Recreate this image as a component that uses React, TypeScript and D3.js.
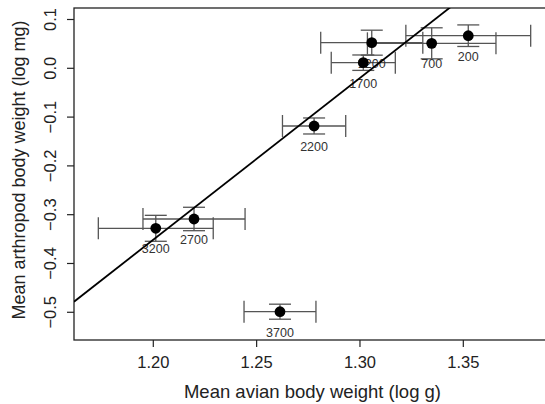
import React from "react";
import * as d3 from "d3";

const siteLabels = ["200", "700", "1200", "1700", "2200", "2700", "3200", "3700"];
const avianMean = [1.3524, 1.3347, 1.3057, 1.3016, 1.2778, 1.2197, 1.2012, 1.2613];
const avianErr = [0.0302, 0.0311, 0.0247, 0.0155, 0.0153, 0.0247, 0.0278, 0.0174];
const arthMean = [0.0668, 0.0512, 0.0525, 0.0115, -0.1182, -0.3088, -0.3279, -0.4988];
const arthErr = [0.0221, 0.0318, 0.0256, 0.0158, 0.0164, 0.024, 0.0266, 0.0154];
const xTicks = [1.2, 1.25, 1.3, 1.35];
const yTicks = [-0.5, -0.4, -0.3, -0.2, -0.1, 0.0, 0.1];
const fitSlope = 3.314;
const fitIntercept = -4.328;
const xDomain = [1.16163, 1.39243];
const yDomain = [-0.5568, 0.12357];

const W = 545;
const H = 404;
const L = 74, R = 551, T = 8, B = 340;
const FONT = "Arial, 'Liberation Sans', Helvetica, sans-serif";

export default function App() {
  const x = d3.scaleLinear().domain(xDomain).range([L, R]);
  const y = d3.scaleLinear().domain(yDomain).range([B, T]);
  const cap = 11;
  const line = d3.line<number>().x((v) => x(v)).y((v) => y(fitIntercept + fitSlope * v));
  const errColor = "#555";

  return (
    <svg width={W} height={H} style={{ position: "absolute", left: 0, top: 0, background: "#fff" }}>
      <defs>
        <clipPath id="plotclip">
          <rect x={L} y={T} width={R - L} height={B - T} />
        </clipPath>
      </defs>
      <rect x={0} y={0} width={W} height={H} fill="#fff" />
      {/* frame */}
      <rect x={L} y={T} width={R - L} height={B - T} fill="none" stroke="#222" strokeWidth={1.3} />
      {/* x axis ticks */}
      {xTicks.map((t) => (
        <g key={"xt" + t}>
          <line x1={x(t)} x2={x(t)} y1={B} y2={B + 7} stroke="#222" strokeWidth={1.2} />
          <text x={x(t)} y={367.5} textAnchor="middle" fontFamily={FONT} fontSize={16.5} fill="#222">
            {d3.format(".2f")(t)}
          </text>
        </g>
      ))}
      {/* y axis ticks */}
      {yTicks.map((t) => (
        <g key={"yt" + t}>
          <line x1={L - 7} x2={L} y1={y(t)} y2={y(t)} stroke="#222" strokeWidth={1.2} />
          <text
            transform={`translate(56,${y(t)}) rotate(-90)`}
            textAnchor="middle"
            fontFamily={FONT}
            fontSize={16.5}
            fill="#222"
          >
            {d3.format(".1f")(t)}
          </text>
        </g>
      ))}
      <text x={312.5} y={398} textAnchor="middle" fontFamily={FONT} fontSize={18.5} fill="#222">
        Mean avian body weight (log g)
      </text>
      <text
        transform={`translate(24.5,${(T + B) / 2 - 4}) rotate(-90)`}
        textAnchor="middle"
        fontFamily={FONT}
        fontSize={18}
        fill="#222"
      >
        Mean arthropod body weight (log mg)
      </text>
      {/* error bars */}
      {siteLabels.map((lab, i) => {
        const cx = x(avianMean[i]);
        const cy = y(arthMean[i]);
        const x0 = x(avianMean[i] - avianErr[i]);
        const x1 = x(avianMean[i] + avianErr[i]);
        const y0 = y(arthMean[i] - arthErr[i]);
        const y1 = y(arthMean[i] + arthErr[i]);
        return (
          <g key={"eb" + lab} stroke={errColor} strokeWidth={1.3} fill="none">
            <line x1={x0} x2={x1} y1={cy} y2={cy} />
            <line x1={x0} x2={x0} y1={cy - cap} y2={cy + cap} />
            <line x1={x1} x2={x1} y1={cy - cap} y2={cy + cap} />
            <line x1={cx} x2={cx} y1={y0} y2={y1} />
            <line x1={cx - cap} x2={cx + cap} y1={y0} y2={y0} />
            <line x1={cx - cap} x2={cx + cap} y1={y1} y2={y1} />
          </g>
        );
      })}
      {/* labels */}
      {siteLabels.map((lab, i) => (
        <text
          key={"lb" + lab}
          x={x(avianMean[i])}
          y={y(arthMean[i]) + 25}
          textAnchor="middle"
          fontFamily={FONT}
          fontSize={12.5}
          fill="#333"
        >
          {lab}
        </text>
      ))}
      {/* points */}
      {siteLabels.map((lab, i) => (
        <circle key={"pt" + lab} cx={x(avianMean[i])} cy={y(arthMean[i])} r={5.4} fill="#000" />
      ))}
      {/* regression line */}
      <path
        d={line(xDomain) || ""}
        clipPath="url(#plotclip)"
        fill="none"
        stroke="#000"
        strokeWidth={1.8}
      />
    </svg>
  );
}
